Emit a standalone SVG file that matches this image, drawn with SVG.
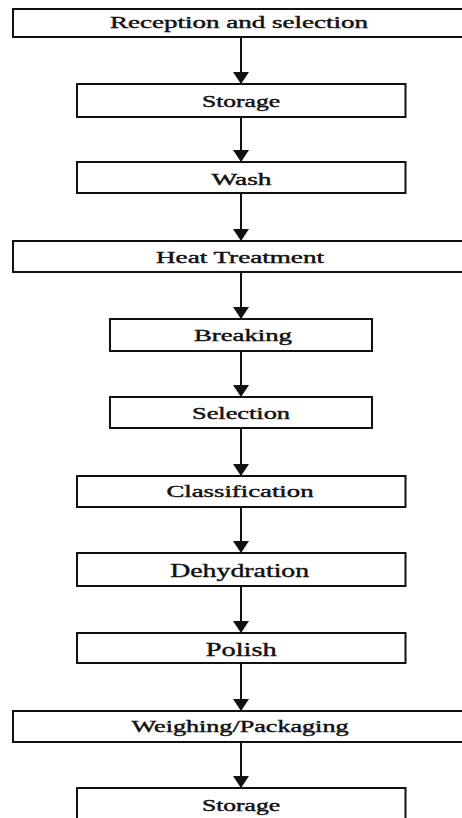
<svg xmlns="http://www.w3.org/2000/svg" width="462" height="818" viewBox="0 0 462 818">
<style>
.box{fill:#fff;stroke:#111;stroke-width:2}
.lbl{font-family:"Liberation Serif","Times New Roman",serif;font-size:16px;fill:#111;stroke:#111;stroke-width:0.4;text-anchor:middle}
.big{font-size:19px}
.con{stroke:#111;stroke-width:2;fill:none}
</style>
<defs>
<marker id="ah" markerWidth="12" markerHeight="16" refX="12" refY="8" orient="auto" markerUnits="userSpaceOnUse">
<path d="M0,0 L12,8 L0,16 Z" fill="#111"/>
</marker>
</defs>
<rect x="0" y="0" width="462" height="818" fill="#fff"/>
<g id="connectors">
<line class="con" x1="241" y1="37" x2="241" y2="84" marker-end="url(#ah)"/>
<line class="con" x1="241" y1="117" x2="241" y2="162" marker-end="url(#ah)"/>
<line class="con" x1="241" y1="193" x2="241" y2="241" marker-end="url(#ah)"/>
<line class="con" x1="241" y1="272" x2="241" y2="319" marker-end="url(#ah)"/>
<line class="con" x1="241" y1="351" x2="241" y2="397" marker-end="url(#ah)"/>
<line class="con" x1="241" y1="428" x2="241" y2="476" marker-end="url(#ah)"/>
<line class="con" x1="241" y1="507" x2="241" y2="553" marker-end="url(#ah)"/>
<line class="con" x1="241" y1="586" x2="241" y2="633" marker-end="url(#ah)"/>
<line class="con" x1="241" y1="663" x2="241" y2="711" marker-end="url(#ah)"/>
<line class="con" x1="241" y1="742" x2="241" y2="788" marker-end="url(#ah)"/>
</g>
<g id="n1"><rect class="box" x="13" y="9" width="455" height="28"/><text class="lbl" x="239" y="28" textLength="258" lengthAdjust="spacingAndGlyphs">Reception and selection</text></g>
<g id="n2"><rect class="box" x="77" y="84" width="328.5" height="33"/><text class="lbl" x="241" y="106.5" textLength="78" lengthAdjust="spacingAndGlyphs">Storage</text></g>
<g id="n3"><rect class="box" x="77" y="162" width="328.5" height="31"/><text class="lbl" x="241.5" y="185" textLength="60" lengthAdjust="spacingAndGlyphs">Wash</text></g>
<g id="n4"><rect class="box" x="13" y="241" width="455" height="31"/><text class="lbl" x="240" y="263" textLength="168" lengthAdjust="spacingAndGlyphs">Heat Treatment</text></g>
<g id="n5"><rect class="box" x="110" y="319" width="262" height="32"/><text class="lbl" x="243" y="341" textLength="98" lengthAdjust="spacingAndGlyphs">Breaking</text></g>
<g id="n6"><rect class="box" x="110" y="397" width="262" height="31"/><text class="lbl" x="241" y="419" textLength="98" lengthAdjust="spacingAndGlyphs">Selection</text></g>
<g id="n7"><rect class="box" x="77" y="476" width="328.5" height="31"/><text class="lbl" x="240" y="497" textLength="147" lengthAdjust="spacingAndGlyphs">Classification</text></g>
<g id="n8"><rect class="box" x="77" y="553" width="328.5" height="33"/><text class="lbl big" x="239.7" y="577" textLength="139" lengthAdjust="spacingAndGlyphs">Dehydration</text></g>
<g id="n9"><rect class="box" x="77" y="633" width="328.5" height="30"/><text class="lbl big" x="241.2" y="655.5" textLength="71" lengthAdjust="spacingAndGlyphs">Polish</text></g>
<g id="n10"><rect class="box" x="13" y="711" width="455" height="31"/><text class="lbl" x="240" y="732" textLength="217" lengthAdjust="spacingAndGlyphs">Weighing/Packaging</text></g>
<g id="n11"><rect class="box" x="77" y="788" width="328.5" height="45"/><text class="lbl" x="241" y="811" textLength="78" lengthAdjust="spacingAndGlyphs">Storage</text></g>
</svg>
